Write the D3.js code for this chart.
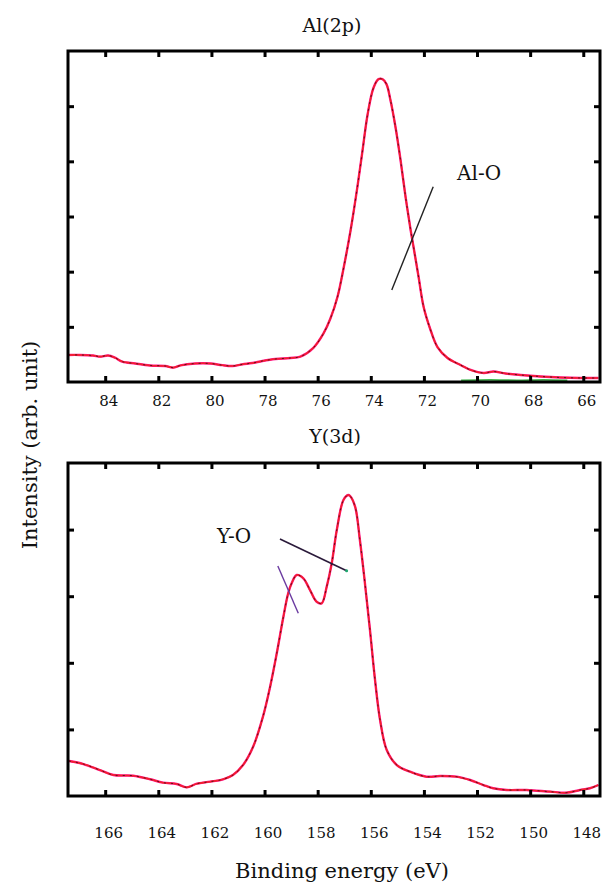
<!DOCTYPE html>
<html>
<head>
<meta charset="utf-8">
<script src="https://cdn.jsdelivr.net/npm/d3@7"></script>
<style>
html,body{margin:0;padding:0;background:#fff;}
svg{display:block;}
text{font-family:"DejaVu Serif",serif;fill:#111;}
</style>
</head>
<body>
<svg id="chart" width="612" height="882"></svg>
<script>
// ---------- data ----------
const alTicks = [84, 82, 80, 78, 76, 74, 72, 70, 68, 66];
const yTicks = [166, 164, 162, 160, 158, 156, 154, 152, 150, 148];

const alEnergy = [85.40,84.95,84.46,84.19,83.89,83.63,83.36,82.87,82.31,81.74,81.44,81.17,80.61,80.04,79.59,79.21,78.84,78.46,78.08,77.59,77.03,76.65,76.16,75.78,75.52,75.25,75.03,74.76,74.50,74.31,74.12,73.90,73.71,73.56,73.41,73.26,73.07,72.88,72.69,72.50,72.39,72.20,72.01,71.75,71.49,71.11,70.62,70.24,69.75,69.38,68.93,68.36,67.61,66.86,66.11,65.43];
const alIntensity = [0.49,0.49,0.48,0.46,0.48,0.44,0.37,0.335,0.3,0.29,0.26,0.3,0.335,0.335,0.305,0.29,0.32,0.344,0.381,0.417,0.435,0.46,0.62,0.88,1.15,1.55,2.05,2.75,3.55,4.2,4.85,5.33,5.49,5.49,5.40,5.111,4.622,4.024,3.353,2.755,2.447,1.903,1.359,0.943,0.634,0.435,0.308,0.218,0.163,0.19,0.154,0.127,0.1,0.082,0.073,0.073];

const yEnergy = [167.36,166.82,166.20,165.69,164.94,164.31,163.82,163.31,162.93,162.55,162.05,161.56,161.19,160.81,160.43,160.06,159.79,159.54,159.29,159.11,158.98,158.79,158.54,158.29,158.04,157.85,157.66,157.47,157.28,157.03,156.85,156.78,156.59,156.41,156.22,156.03,155.84,155.65,155.40,155.02,154.52,153.90,153.39,152.77,152.26,151.76,151.39,150.88,150.13,149.25,148.62,148.12,147.75,147.43];
const yIntensity = [0.526,0.48,0.39,0.315,0.305,0.251,0.2,0.18,0.13,0.185,0.215,0.251,0.315,0.465,0.74,1.191,1.641,2.143,2.692,3.044,3.194,3.318,3.269,3.093,2.917,2.893,3.143,3.494,3.994,4.444,4.52,4.505,4.344,3.844,3.194,2.492,1.742,1.141,0.691,0.465,0.365,0.29,0.3,0.29,0.24,0.165,0.116,0.09,0.09,0.065,0.05,0.09,0.116,0.165];

const alGreenE = [70.6, 69.5, 68.5, 67.5, 66.6];
const alGreenI = [0.03, 0.04, 0.03, 0.04, 0.03];

// annotations [e1, i1, e2, i2]
const alOLine = [73.21, 1.668, 71.65, 3.54];
const yOLine = [159.42, 3.859, 156.91, 3.383];
const yOShort = [159.50, 3.453, 158.73, 2.743];

// ---------- drawing ----------
const svg = d3.select("#chart");
const L = 68, R = 600;

function panel(opts) {
  const g = svg.append("g");
  const x = d3.scaleLinear().domain(opts.xDomain).range([L, R]);
  const y = d3.scaleLinear().domain(opts.yDomain).range([opts.bottom, opts.top]);

  const line = d3.line().x(d => x(d[0])).y(d => y(d[1])).curve(d3.curveCatmullRom.alpha(0.5));
  const pts = opts.energy.map((e, i) => [e, opts.intensity[i]]);

  if (opts.greenE) {
    const gp = opts.greenE.map((e, i) => [e, opts.greenI[i]]);
    g.append("path").attr("d", line(gp)).attr("fill", "none")
      .attr("stroke", "#3cb34a").attr("stroke-width", 1.8);
  }
  g.append("path").attr("d", line(pts)).attr("fill", "none")
    .attr("stroke", "#ff1493").attr("stroke-width", 2.4);
  g.append("path").attr("d", line(pts)).attr("fill", "none")
    .attr("stroke", "#f2202a").attr("stroke-width", 1.6);
  g.append("path").attr("d", line(pts)).attr("fill", "none")
    .attr("stroke", "#3a0a10").attr("stroke-width", 0.8).attr("stroke-dasharray", "2,5");

  const bottomAx = d3.axisBottom(x).tickValues(opts.ticks).tickSize(-6).tickFormat(d3.format("d"));
  const gb = g.append("g").attr("transform", `translate(0,${opts.bottom})`).call(bottomAx);
  gb.selectAll("text").attr("y", opts.labelOffset).attr("dy", 0).attr("dx", 3)
    .style("font-family", "DejaVu Serif").style("font-size", "15px").attr("fill", "#111");
  g.append("g").attr("transform", `translate(0,${opts.top})`)
    .call(d3.axisTop(x).tickValues(opts.ticks).tickSize(-6).tickFormat(""));
  const yt = d3.range(1, opts.yDomain[1]);
  g.append("g").attr("transform", `translate(${L},0)`)
    .call(d3.axisLeft(y).tickValues(yt).tickSize(-6).tickFormat(""));
  g.append("g").attr("transform", `translate(${R},0)`)
    .call(d3.axisRight(y).tickValues(yt).tickSize(-6).tickFormat(""));
  g.selectAll(".domain").remove();
  g.selectAll(".tick line").attr("stroke", "#000").attr("stroke-width", 3);

  g.append("rect").attr("x", L).attr("y", opts.top).attr("width", R - L).attr("height", opts.bottom - opts.top)
    .attr("fill", "none").attr("stroke", "#000").attr("stroke-width", 3);

  svg.append("text").attr("x", opts.titleX).attr("y", opts.titleY).attr("text-anchor", "middle")
    .style("font-size", "19px").text(opts.title);

  return {x, y, g};
}

const p1 = panel({
  xDomain: [85.40, 65.37], yDomain: [0, 6], top: 51, bottom: 382,
  ticks: alTicks, energy: alEnergy, intensity: alIntensity,
  greenE: alGreenE, greenI: alGreenI,
  labelOffset: 24, title: "Al(2p)", titleX: 332, titleY: 32
});

p1.g.append("line").attr("x1", p1.x(alOLine[0])).attr("y1", p1.y(alOLine[1]))
  .attr("x2", p1.x(alOLine[2])).attr("y2", p1.y(alOLine[3]))
  .attr("stroke", "#222").attr("stroke-width", 1.4);
p1.g.append("text").attr("x", p1.x(70.75)).attr("y", p1.y(3.66)).style("font-size", "20px").text("Al-O");

const p2 = panel({
  xDomain: [167.40, 147.37], yDomain: [0, 5], top: 463, bottom: 796,
  ticks: yTicks, energy: yEnergy, intensity: yIntensity,
  labelOffset: 42, title: "Y(3d)", titleX: 335, titleY: 443
});

p2.g.append("line").attr("x1", p2.x(yOLine[0])).attr("y1", p2.y(yOLine[1]))
  .attr("x2", p2.x(yOLine[2])).attr("y2", p2.y(yOLine[3]))
  .attr("stroke", "#2a1a3a").attr("stroke-width", 1.6);
p2.g.append("circle").attr("cx", p2.x(yOLine[2])).attr("cy", p2.y(yOLine[3])).attr("r", 1.5).attr("fill", "#1fa870");
p2.g.append("line").attr("x1", p2.x(yOShort[0])).attr("y1", p2.y(yOShort[1]))
  .attr("x2", p2.x(yOShort[2])).attr("y2", p2.y(yOShort[3]))
  .attr("stroke", "#6a3aa0").attr("stroke-width", 1.4);
p2.g.append("text").attr("x", p2.x(161.79)).attr("y", p2.y(3.80)).style("font-size", "20px").text("Y-O");

svg.append("text").attr("x", 342).attr("y", 878).attr("text-anchor", "middle")
  .style("font-size", "21px").text("Binding energy (eV)");
svg.append("text").attr("transform", "translate(37,445) rotate(-90)").attr("text-anchor", "middle")
  .style("font-size", "21px").text("Intensity (arb. unit)");
</script>
</body>
</html>
